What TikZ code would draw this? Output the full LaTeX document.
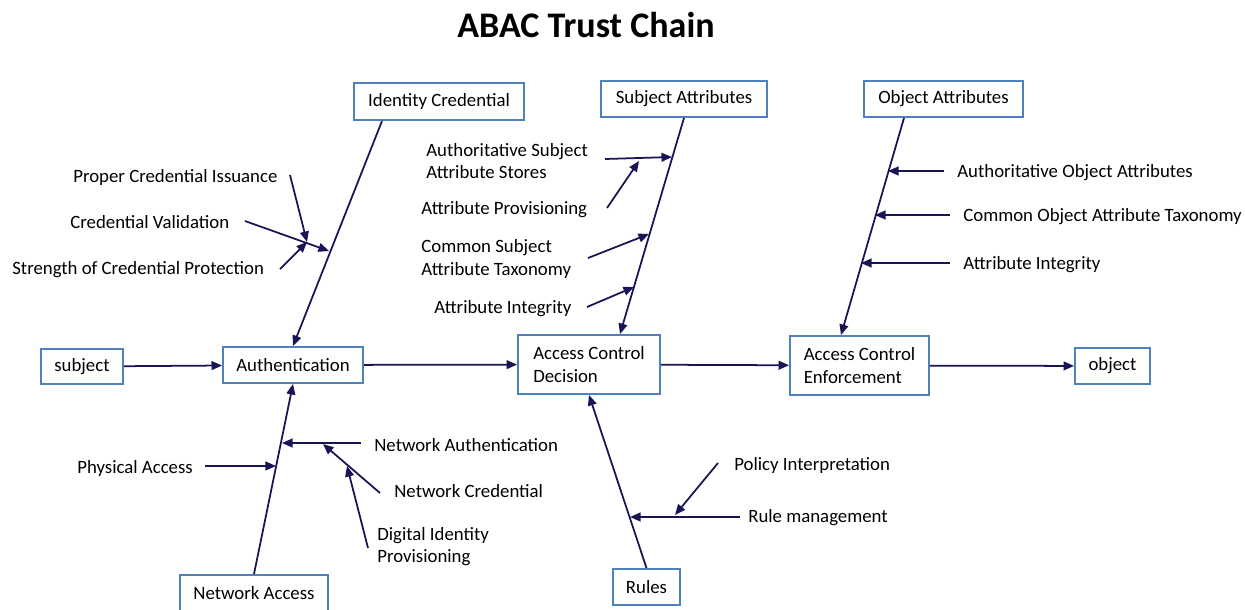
\documentclass[tikz,border=0pt]{standalone}
\usepackage{fontspec}
\setmainfont{Carlito}
\usetikzlibrary{arrows.meta}
\definecolor{arrowblue}{RGB}{25,20,85}
\definecolor{boxblue}{RGB}{79,129,189}
\tikzset{
	box/.style={draw=boxblue, line width=1.1pt, fill=white, inner sep=0pt, align=left},
	arr/.style={draw=arrowblue, line width=1pt, -{Triangle[length=6pt,width=5pt]}},
	lbl/.style={anchor=west, inner sep=0pt, align=left},
}
\begin{document}
\begin{tikzpicture}[x=0.02cm, y=-0.02cm, font=\fontsize{10.7}{12.6}\selectfont]
				\useasboundingbox (0, 0) rectangle (1245, 609);
				
				\node (title) at (586, 25) {\fontsize{20.5}{24}\selectfont\bfseries ABAC Trust Chain};
				
				\node[box, minimum width=3.4cm, minimum height=0.74cm] (idc) at (439, 101.5) {Identity Credential};
				\node[box, minimum width=3.32cm, minimum height=0.72cm] (sattr) at (684, 99) {Subject Attributes};
				\node[box, minimum width=3.18cm, minimum height=0.72cm] (oattr) at (943.5, 99) {Object Attributes};
				
				\node[box, minimum width=1.64cm, minimum height=0.7cm] (subj) at (82, 366.5) {subject};
				\node[box, minimum width=2.8cm, minimum height=0.72cm] (auth) at (293, 365) {Authentication};
				\node[box, minimum width=2.84cm, minimum height=1.18cm] (acd) at (589, 364.5) {Access Control\\Decision};
				\node[box, minimum width=2.78cm, minimum height=1.18cm] (ace) at (859.5, 365.5) {Access Control\\Enforcement};
				\node[box, minimum width=1.5cm, minimum height=0.72cm] (obj) at (1112.5, 366) {object};
				
				\node[box, minimum width=2.96cm, minimum height=0.74cm] (netacc) at (254, 593.5) {Network Access};
				\node[box, minimum width=1.34cm, minimum height=0.72cm] (rules) at (646.5, 587) {Rules};
				
				\draw[arr] (subj) -- (auth);
				\draw[arr] (auth) -- (acd);
				\draw[arr] (acd) -- (ace);
				\draw[arr] (ace) -- (obj);
				\draw[arr] ([xshift=-1.14cm]idc.south) -- (auth.north);
				\draw[arr] (sattr.south) -- ([xshift=0.62cm]acd.north);
				\draw[arr] ([xshift=-0.79cm]oattr.south) -- ([xshift=-0.37cm]ace.north);
				\draw[arr] (netacc.north) -- (auth.south);
				\draw[arr] (rules.north) -- (acd.south);
				
				\node[lbl] (pci) at (73, 177) {Proper Credential Issuance};
				\node[lbl] (cv) at (70, 222) {Credential Validation};
				\node[lbl] (scp) at (12, 270) {Strength of Credential Protection};
				\coordinate (pciA) at (290, 175);
				\coordinate (cvA) at (245, 221);
				\coordinate (scpA) at (280, 269);
				\coordinate (cvB) at (329, 251);
				\coordinate (cvM) at (307, 242);
				\draw[arr] (cvA) -- (cvB);
				\draw[arr] (pciA) -- (cvM);
				\draw[arr] (scpA) -- (cvM);
				
				\node[lbl] (asas) at (426, 161) {Authoritative Subject\\Attribute Stores};
				\node[lbl] (ap) at (421, 210) {Attribute Provisioning};
				\node[lbl] (csat) at (421, 259) {Common Subject\\Attribute Taxonomy};
				\node[lbl] (sai) at (434, 309) {Attribute Integrity};
				\coordinate (asasA) at (605, 159);
				\coordinate (asasB) at (672, 157);
				\coordinate (apA) at (607, 208);
				\coordinate (apB) at (639, 161);
				\coordinate (csatA) at (588, 258);
				\coordinate (csatB) at (649, 234);
				\coordinate (saiA) at (587, 307);
				\coordinate (saiB) at (634, 287);
				\draw[arr] (asasA) -- (asasB);
				\draw[arr] (apA) -- (apB);
				\draw[arr] (csatA) -- (csatB);
				\draw[arr] (saiA) -- (saiB);
				
				\node[lbl] (aoa) at (957, 173) {Authoritative Object Attributes};
				\node[lbl] (coat) at (963, 217) {Common Object Attribute Taxonomy};
				\node[lbl] (oai) at (963, 265) {Attribute Integrity};
				\coordinate (aoaA) at (944, 171);
				\coordinate (aoaB) at (888, 171);
				\coordinate (coatA) at (950, 215);
				\coordinate (coatB) at (875, 215);
				\coordinate (oaiA) at (950, 263);
				\coordinate (oaiB) at (861, 263);
				\draw[arr] (aoaA) -- (aoaB);
				\draw[arr] (coatA) -- (coatB);
				\draw[arr] (oaiA) -- (oaiB);
				
				\node[lbl] (nauth) at (374, 445) {Network Authentication};
				\node[lbl] (phys) at (77, 468) {Physical Access};
				\node[lbl] (ncred) at (394, 491) {Network Credential};
				\node[lbl] (dip) at (377, 547) {Digital Identity\\Provisioning};
				\coordinate (nauthA) at (361, 443);
				\coordinate (nauthB) at (282, 443);
				\coordinate (physA) at (205, 466);
				\coordinate (physB) at (276, 466);
				\coordinate (ncredA) at (380, 493);
				\coordinate (ncredB) at (323, 444);
				\coordinate (dipA) at (368, 548);
				\coordinate (dipB) at (347, 466);
				\draw[arr] (nauthA) -- (nauthB);
				\draw[arr] (physA) -- (physB);
				\draw[arr] (ncredA) -- (ncredB);
				\draw[arr] (dipA) -- (dipB);
				
				\node[lbl] (poli) at (734, 465) {Policy Interpretation};
				\node[lbl] (rmgmt) at (748, 518) {Rule management};
				\coordinate (poliA) at (718, 463);
				\coordinate (poliB) at (675, 515);
				\coordinate (rmgmtA) at (740, 517);
				\coordinate (rmgmtB) at (630, 517);
				\draw[arr] (poliA) -- (poliB);
				\draw[arr] (rmgmtA) -- (rmgmtB);
			\end{tikzpicture}
\end{document}
